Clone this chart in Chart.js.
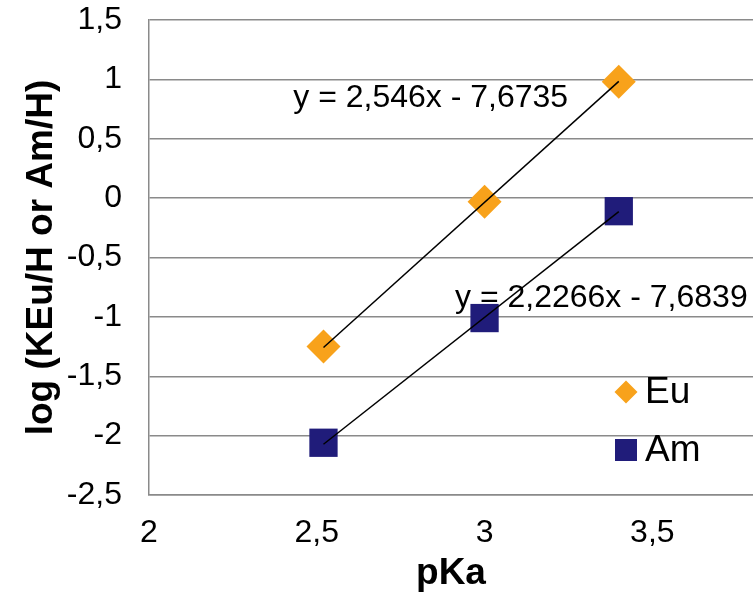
<!DOCTYPE html>
<html>
<head>
<meta charset="utf-8">
<script src="https://cdn.jsdelivr.net/npm/chart.js@4/dist/chart.umd.min.js"></script>
<style>
  html, body { margin: 0; padding: 0; background: #fff; overflow: hidden; }
  #wrap { width: 753px; height: 593px; }
</style>
</head>
<body>
<div id="wrap"><canvas id="c" width="753" height="593"></canvas></div>
<script>
// ── Data ──
const pKa = [2.52, 3.0, 3.4];
const logEu = [-1.25, -0.03, 0.98];
const logAm = [-2.06, -1.01, -0.11];

// linear fits (slope, intercept) as shown in the chart
const fitEu = [2.546, -7.6735];
const fitAm = [2.2266, -7.6839];
const eqLabels = ['y = 2,546x - 7,6735', 'y = 2,2266x - 7,6839'];
const eqAnchors = [[2.43, 0.843], [2.912, -0.841]];   // label left / middle, data units

const seriesNames = ['Eu', 'Am'];
const xTicks = [2, 2.5, 3, 3.5];

const COLORS = { eu: '#F8A21B', am: '#201C7A', grid: '#8a8a8a' };
const FONT = '"Liberation Sans", Arial, sans-serif';

function pts(xs, ys) { return xs.map((x, i) => ({ x, y: ys[i] })); }
function fitLine(xs, fit) {
    const a = xs[0], b = xs[xs.length - 1];
    return [{ x: a, y: fit[0] * a + fit[1] }, { x: b, y: fit[0] * b + fit[1] }];
}
const comma = v => String(v).replace('.', ',');
const noPad = s => { s.paddingTop = 0; s.paddingBottom = 0; s.paddingLeft = 0; s.paddingRight = 0; };

// equation labels go under the markers
const eqPlugin = {
    id: 'eqText',
    beforeDatasetsDraw(chart) {
        const { ctx, scales: { x, y } } = chart;
        ctx.save();
        ctx.fillStyle = '#000';
        ctx.font = '32px ' + FONT;
        ctx.textAlign = 'left';
        ctx.textBaseline = 'middle';
        eqLabels.forEach((t, i) => {
            ctx.fillText(t, x.getPixelForValue(eqAnchors[i][0]), y.getPixelForValue(eqAnchors[i][1]));
        });
        ctx.restore();
    }
};

// legend sits inside the plot, lower right
const legendPlugin = {
    id: 'innerLegend',
    afterDatasetsDraw(chart) {
        const { ctx } = chart;
        const items = [
            { name: seriesNames[0], color: COLORS.eu, shape: 'diamond', cx: 626, cy: 392 },
            { name: seriesNames[1], color: COLORS.am, shape: 'square', cx: 626, cy: 450 }
        ];
        ctx.save();
        ctx.font = '37px ' + FONT;
        ctx.textBaseline = 'middle';
        ctx.textAlign = 'left';
        items.forEach(it => {
            ctx.fillStyle = it.color;
            ctx.beginPath();
            if (it.shape === 'diamond') {
                const r = 11.5;
                ctx.moveTo(it.cx, it.cy - r); ctx.lineTo(it.cx + r, it.cy);
                ctx.lineTo(it.cx, it.cy + r); ctx.lineTo(it.cx - r, it.cy);
                ctx.closePath();
            } else {
                ctx.rect(it.cx - 11, it.cy - 11, 22, 22);
            }
            ctx.fill();
            ctx.fillStyle = '#000';
            ctx.fillText(it.name, 645, it.cy + 1);
        });
        ctx.restore();
    }
};

new Chart(document.getElementById('c'), {
    type: 'scatter',
    data: {
        datasets: [
            { label: seriesNames[0], data: pts(pKa, logEu), pointStyle: 'rectRot', pointRadius: 17, pointHoverRadius: 17,
              backgroundColor: COLORS.eu, borderWidth: 0, order: 1 },
            { label: seriesNames[1], data: pts(pKa, logAm), pointStyle: 'rect', pointRadius: 20, pointHoverRadius: 20,
              backgroundColor: COLORS.am, borderWidth: 0, order: 1 },
            { type: 'line', label: 'fitEu', data: fitLine(pKa, fitEu), borderColor: '#000', borderWidth: 1.5,
              pointRadius: 0, fill: false, order: 0 },
            { type: 'line', label: 'fitAm', data: fitLine(pKa, fitAm), borderColor: '#000', borderWidth: 1.5,
              pointRadius: 0, fill: false, order: 0 }
        ]
    },
    options: {
        responsive: false,
        animation: false,
        layout: { autoPadding: false, padding: { top: 20, right: 0, left: 0, bottom: 0 } },
        plugins: { legend: { display: false }, tooltip: { enabled: false } },
        scales: {
            x: {
                type: 'linear', min: 2, max: 3.8,
                afterBuildTicks: s => { s.ticks = xTicks.map(v => ({ value: v })); },
                afterFit: s => { s.height = 98; noPad(s); },
                grid: { display: false, drawTicks: false },
                border: { display: true, color: COLORS.grid, width: 1.5 },
                ticks: { padding: 19, color: '#000', font: { family: FONT, size: 32 }, callback: v => comma(v) },
                title: { display: true, text: 'pKa', color: '#000', padding: { top: 0, bottom: -3 },
                         font: { family: FONT, size: 37, weight: 'bold' } }
            },
            y: {
                type: 'linear', min: -2.5, max: 1.5,
                afterFit: s => { s.width = 149; noPad(s); },
                grid: { color: COLORS.grid, lineWidth: 1.5, drawTicks: false },
                border: { display: true, color: COLORS.grid, width: 1.5 },
                ticks: { stepSize: 0.5, padding: 27, color: '#000', font: { family: FONT, size: 32 }, callback: v => comma(v) },
                title: { display: true, text: 'log (KEu/H or Am/H)', color: '#000', padding: { top: 20, bottom: 0 },
                         font: { family: FONT, size: 37, weight: 'bold' } }
            }
        }
    },
    plugins: [eqPlugin, legendPlugin]
});
</script>
</body>
</html>
